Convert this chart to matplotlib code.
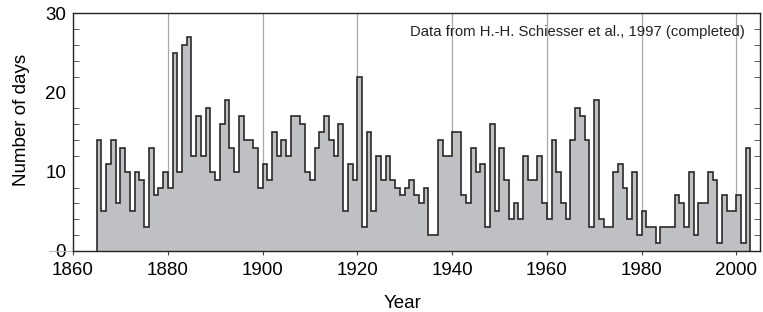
import matplotlib
matplotlib.use("Agg")
import matplotlib.pyplot as plt
import numpy as np

# hail days per year, 1865-2002
first_year = 1865
days = [14, 5, 11, 14, 6, 13, 10, 5, 10, 9,      # 1865-1874
        3, 13, 7, 8, 10, 8, 25, 10, 26, 27,      # 1875-1884
        12, 17, 12, 18, 10, 9, 16, 19, 13, 10,   # 1885-1894
        17, 14, 14, 13, 8, 11, 9, 15, 12, 14,    # 1895-1904
        12, 17, 17, 16, 10, 9, 13, 15, 17, 14,   # 1905-1914
        12, 16, 5, 11, 9, 22, 3, 15, 5, 12,      # 1915-1924
        9, 12, 9, 8, 7, 8, 9, 7, 6, 8,           # 1925-1934
        2, 2, 14, 12, 12, 15, 15, 7, 6, 13,      # 1935-1944
        10, 11, 3, 16, 5, 13, 9, 4, 6, 4,        # 1945-1954
        12, 9, 9, 12, 6, 4, 14, 10, 6, 4,        # 1955-1964
        14, 18, 17, 14, 3, 19, 4, 3, 3, 10,      # 1965-1974
        11, 8, 4, 10, 2, 5, 3, 3, 1, 3,          # 1975-1984
        3, 3, 7, 6, 3, 10, 2, 6, 6, 10,          # 1985-1994
        9, 1, 7, 5, 5, 7, 1, 13]                 # 1995-2002
x_ticks = [1860, 1880, 1900, 1920, 1940, 1960, 1980, 2000]
y_ticks = [0, 10, 20, 30]
source = "Data from H.-H. Schiesser et al., 1997 (completed)"

plt.rcParams['font.family'] = ['Liberation Sans', 'DejaVu Sans']

edges = np.arange(first_year, first_year + len(days) + 1)

fig = plt.figure(figsize=(7.63, 3.12), dpi=100)
ax = fig.add_axes([0.0957, 0.196, 0.9003, 0.761])

for xv in x_ticks[1:]:
    ax.axvline(xv, color='#a8a8a8', lw=0.9, zorder=0)

ax.stairs(days, edges, baseline=0, fill=True, color='#bfc0c4', zorder=1)
ax.stairs(days, edges, baseline=0, fill=False, color='#2a2a2a', lw=1.2, zorder=2)

ax.set_xlim(1860, 2005)
ax.set_ylim(0, 30)
ax.set_xticks(x_ticks)
ax.set_yticks(y_ticks)
ax.set_yticks(np.arange(0, 31, 2), minor=True)
ax.tick_params(axis='x', which='both', direction='out', length=3, labelsize=13.5,
               color='#444444', top=False, pad=5)
ax.tick_params(axis='y', which='major', length=0, labelsize=13.5, pad=5)
ax.tick_params(axis='y', which='minor', direction='in', length=4, color='#444444',
               left=True, right=True)
for s in ax.spines.values():
    s.set_color('#222222')
    s.set_linewidth(1.0)

# short grey stub left of the zero line
ax.plot([-0.035, 0], [0, 0], transform=ax.get_yaxis_transform(), clip_on=False,
        color='#bbbbbb', lw=0.8)

ax.set_xlabel("Year", fontsize=13.5)
ax.xaxis.set_label_coords(0.48, -0.185)
ax.set_ylabel("Number of days", fontsize=13.5)
ax.yaxis.set_label_coords(-0.062, 0.55)
ax.text(0.978, 0.921, source, transform=ax.transAxes, ha='right', va='center',
        fontsize=10.7, color='#222222')

fig.savefig("out.png", dpi=100)
